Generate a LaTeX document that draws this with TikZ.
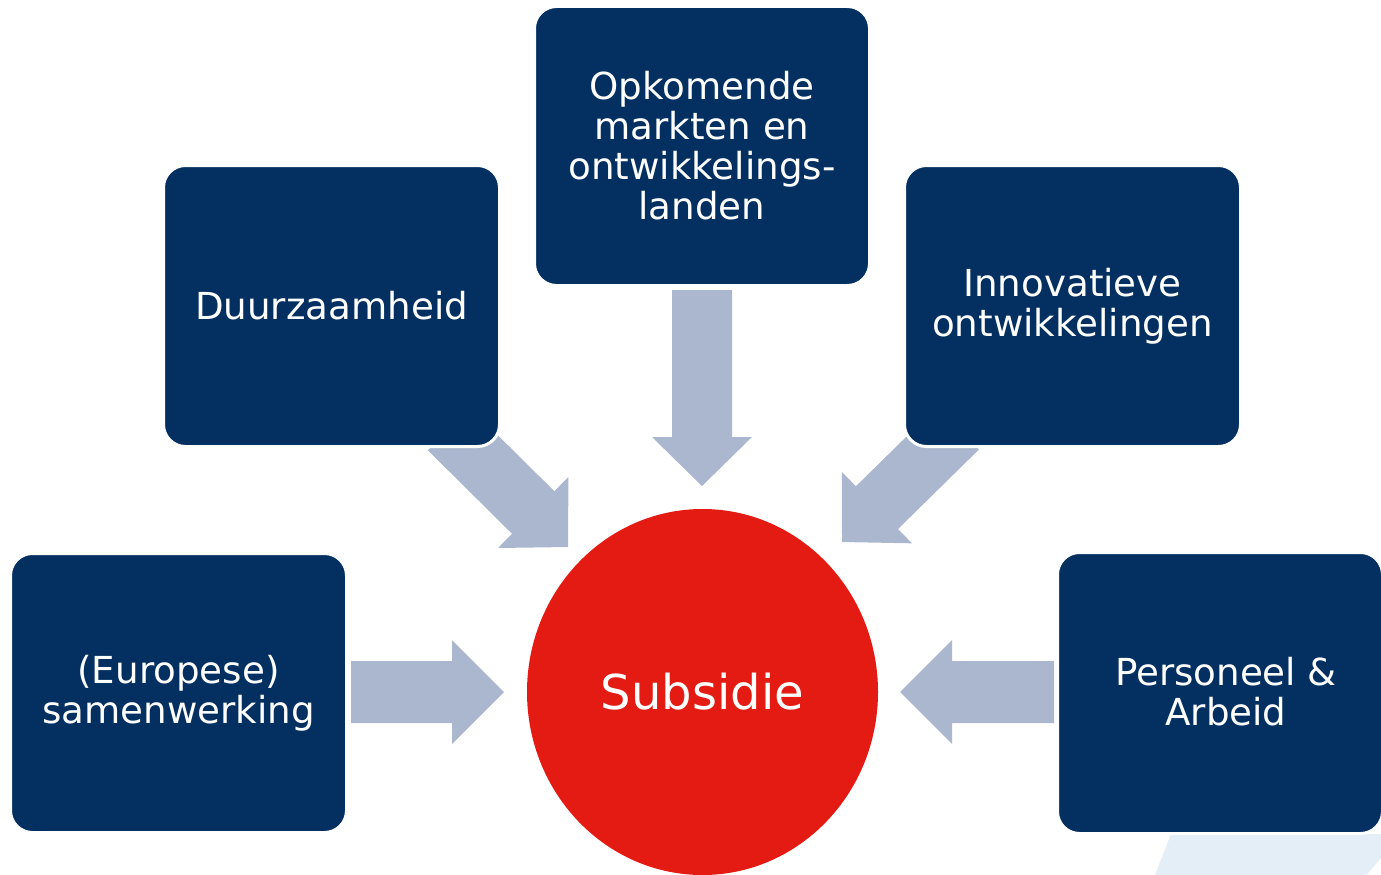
\documentclass[tikz,border=0pt]{standalone}
\usepackage{fontspec}
\setmainfont{DejaVu Sans}
\usetikzlibrary{calc,shapes.geometric}
\definecolor{navyc}{RGB}{3,48,97}
\definecolor{arrowc}{RGB}{170,183,206}
\definecolor{redc}{RGB}{227,27,19}
\definecolor{paleblue}{RGB}{227,238,247}
\newcommand\myblockarrow[5]{%
  \path ($(#2)!#5!(#1)$) coordinate (hb);
  \fill[arrowc] ($(#1)!#3!90:(#2)$) -- ($(hb)!#3!90:(#2)$) -- ($(hb)!#4!90:(#2)$) -- (#2)
    -- ($(hb)!#4!-90:(#2)$) -- ($(hb)!#3!-90:(#2)$) -- ($(#1)!#3!-90:(#2)$) -- cycle;}
\begin{document}
\begin{tikzpicture}[x=1pt,y=-1pt,
  boxst/.style={rectangle, rounded corners=22pt, fill=navyc, draw=white, line width=3pt,
    inner sep=0pt, text=white, align=center, font=\fontsize{37.2}{40}\selectfont},
  labelst/.style={text=white, align=center, font=\fontsize{37.2}{40}\selectfont, inner sep=0pt}]
\useasboundingbox (0,0) rectangle (1381,875);
\clip (0,0) rectangle (1381,875);
% pale background shape
\fill[paleblue] (1153,880) -- (1171,834) -- (1395,834) -- (1395,842) -- (1362,880) -- cycle;
% arrow end points
\coordinate (dS) at (702,290);  \coordinate (dE) at (702,486);
\coordinate (lS) at (351,692);  \coordinate (lE) at (504,692);
\coordinate (rS) at (1054,692); \coordinate (rE) at (900,692);
\coordinate (dlS) at (449,429); \coordinate (dlE) at (568,547);
\coordinate (drS) at (958,428); \coordinate (drE) at (842,542);
\myblockarrow{dS}{dE}{30pt}{50pt}{49pt}
\myblockarrow{lS}{lE}{31pt}{52pt}{52pt}
\myblockarrow{rS}{rE}{31pt}{52pt}{52pt}
\myblockarrow{dlS}{dlE}{30pt}{50pt}{49pt}
\myblockarrow{drS}{drE}{30pt}{50pt}{49pt}
% boxes
\node[boxst, minimum width=335pt, minimum height=279pt] (top) at (702,146)
  {Opkomende\\markten en\\ontwikkelings-\\landen};
\node[boxst, minimum width=336pt, minimum height=281pt] (duur) at (331.5,306) {Duurzaamheid};
\node[boxst, minimum width=336pt, minimum height=281pt] (innov) at (1072.5,306)
  {Innovatieve\\ontwikkelingen};
\node[boxst, minimum width=336pt, minimum height=279pt] (euro) at (178.5,693)
  {(Europese)\\samenwerking};
\node[boxst, minimum width=325pt, minimum height=281pt] (pers) at (1220,693) {};
\node[labelst] (perstext) at (1226,692) {Personeel \&\\Arbeid};
% central ellipse
\node[ellipse, fill=redc, minimum width=351pt, minimum height=366pt, inner sep=0pt,
  text=white, font=\fontsize{48}{50}\selectfont] (sub) at (702.5,692) {Subsidie};
\end{tikzpicture}
\end{document}
